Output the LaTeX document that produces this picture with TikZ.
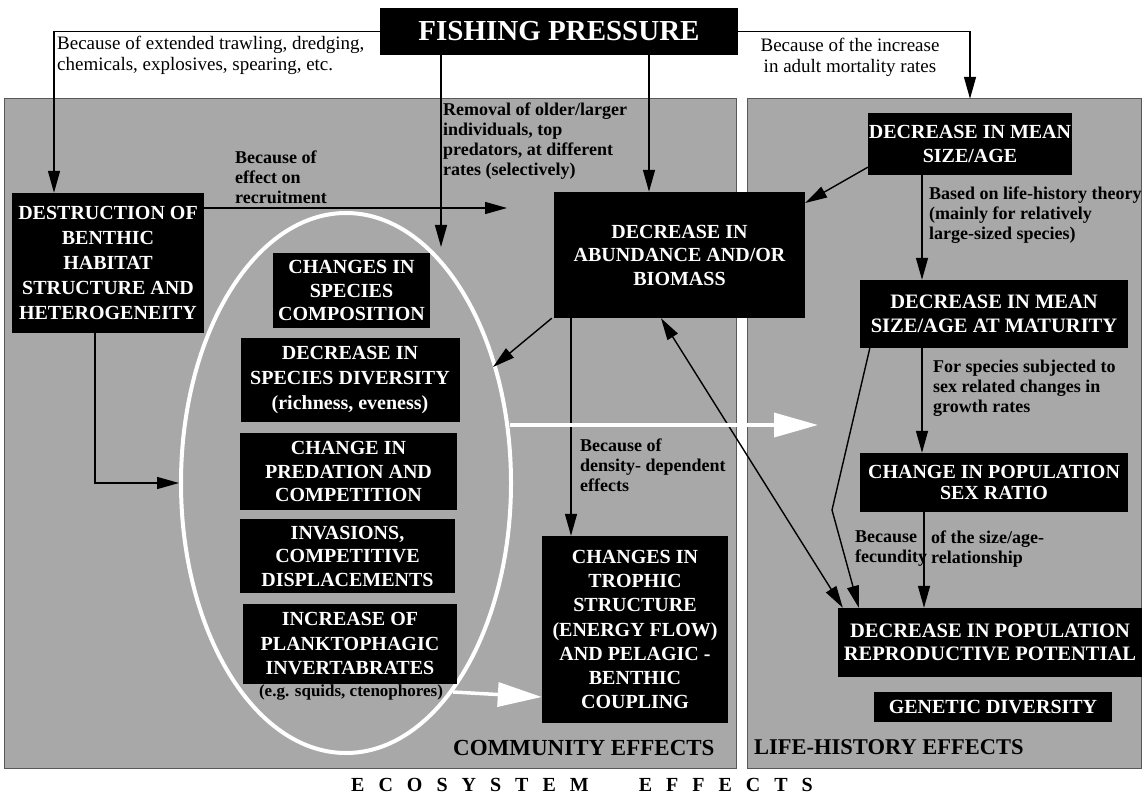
\documentclass[tikz,border=0pt]{standalone}
\usepackage{fontspec}
\setmainfont{Liberation Serif}
\usetikzlibrary{arrows.meta,calc}
\definecolor{panel}{HTML}{A8A8A8}
\newcommand\lsp{\hspace{14pt}}
\begin{document}
\begin{tikzpicture}[x=1pt,y=-1pt,
  box/.style={fill=black,text=white,font=\bfseries\fontsize{20}{23.5}\selectfont,align=center,inner sep=0pt},
  tlbl/.style={font=\fontsize{19}{21}\selectfont,align=left,inner sep=0pt,text=black},
  glbl/.style={font=\bfseries\fontsize{18}{20}\selectfont,align=left,inner sep=0pt,text=black},
  arr/.style={-{Triangle[length=22pt,width=12pt]},line width=1.4pt,black},
  darr/.style={{Triangle[length=22pt,width=12pt]}-{Triangle[length=22pt,width=12pt]},line width=1.4pt,black},
  warr/.style={-{Triangle[length=44pt,width=24pt]},line width=3.5pt,white},
  panelbox/.style={fill=panel,draw=black!65,line width=0.8pt}]
\useasboundingbox[fill=white] (0,0) rectangle (1142,802);

% panels
\path[panelbox] (4,98) rectangle (736,768);
\path[panelbox] (747,98) rectangle (1141,768);

% ellipse
\draw[white,line width=4pt] (346,483) ellipse [x radius=165pt, y radius=270pt];

% boxes
\node[box,minimum width=358pt,minimum height=47pt,font=\bfseries\fontsize{29}{32}\selectfont] (fish) at (559,31.5) {FISHING PRESSURE};
\node[box,minimum width=192pt,minimum height=140pt,font=\bfseries\fontsize{20}{25}\selectfont] (dest) at (108,263) {DESTRUCTION OF\\BENTHIC\\HABITAT\\STRUCTURE AND\\HETEROGENEITY};
\node[box,minimum width=251pt,minimum height=126pt] (abund) at (679.5,255) {DECREASE IN\\ABUNDANCE AND/OR\\BIOMASS};
\node[box,minimum width=157pt,minimum height=75pt] (comp) at (351.5,290.5) {CHANGES IN\\SPECIES\\COMPOSITION};
\node[box,minimum width=219pt,minimum height=84pt,font=\bfseries\fontsize{20}{25}\selectfont] (div) at (350,380) {DECREASE IN\\SPECIES DIVERSITY\\(richness, eveness)};
\node[box,minimum width=217pt,minimum height=77pt] (pred) at (348.5,471.5) {CHANGE IN\\PREDATION AND\\COMPETITION};
\node[box,minimum width=215pt,minimum height=74pt] (inv) at (347.5,556) {INVASIONS,\\COMPETITIVE\\DISPLACEMENTS};
\node[box,minimum width=214pt,minimum height=80pt,font=\bfseries\fontsize{20}{24.5}\selectfont] (inc) at (350,644) {INCREASE OF\\PLANKTOPHAGIC\\INVERTABRATES};
\node[box,minimum width=186pt,minimum height=187pt,font=\bfseries\fontsize{20}{24.3}\selectfont] (troph) at (635,629.5) {CHANGES IN\\TROPHIC\\STRUCTURE\\(ENERGY FLOW)\\AND PELAGIC -\\BENTHIC\\COUPLING};
\node[box,minimum width=204pt,minimum height=62pt] (sizeage) at (970,144) {DECREASE IN MEAN\\SIZE/AGE};
\node[box,minimum width=268pt,minimum height=68pt,font=\bfseries\fontsize{20.5}{23.5}\selectfont] (mat) at (994,314) {DECREASE IN MEAN\\SIZE/AGE AT MATURITY};
\node[box,minimum width=268pt,minimum height=59pt,font=\bfseries\fontsize{20}{21.5}\selectfont] (sex) at (994,482.5) {CHANGE IN POPULATION\\SEX RATIO};
\node[box,minimum width=304pt,minimum height=69pt,font=\bfseries\fontsize{20.5}{23.5}\selectfont] (decpop) at (990,642.5) {DECREASE IN POPULATION\\REPRODUCTIVE POTENTIAL};
\node[box,minimum width=238pt,minimum height=30pt] (gen) at (993,707) {GENETIC DIVERSITY};

% labels
\node[tlbl,anchor=west] (l1) at (57,55) {Because of extended trawling, dredging,\\chemicals, explosives, spearing, etc.};
\node[tlbl,align=center] (l2) at (850,57.5) {Because of the increase\\in adult mortality rates};
\node[glbl,anchor=west] (l3) at (443,141) {Removal of older/larger\\individuals, top\\predators, at different\\rates (selectively)};
\node[glbl,anchor=west] (l4) at (235,177) {Because of\\effect on\\recruitment};
\node[glbl,anchor=west] (l5) at (929,215) {Based on life-history theory\\(mainly for relatively\\large-sized species)};
\node[glbl,anchor=west] (l6) at (933,388) {For species subjected to\\sex related changes in\\growth rates};
\node[glbl,anchor=west] (l7) at (580,465) {Because of\\density- dependent\\effects};
\node[glbl,anchor=west] (l8a) at (855,549) {Because\\fecundity};
\node[glbl,anchor=west] (l8b) at (931,549) {of the size/age-\\relationship};
\node[glbl,font=\bfseries\fontsize{17}{20}\selectfont] (eg) at (351,692) {(e.g. squids, ctenophores)};
\node[font=\bfseries\fontsize{23}{25}\selectfont,anchor=west,inner sep=0pt] (comm) at (453,748) {COMMUNITY EFFECTS};
\node[font=\bfseries\fontsize{22.5}{25}\selectfont,anchor=west,inner sep=0pt] (lh) at (754,747) {LIFE-HISTORY EFFECTS};
\node[font=\bfseries\fontsize{20}{22}\selectfont,inner sep=0pt] (eco) at (582,785) {E\lsp C\lsp O\lsp S\lsp Y\lsp S\lsp T\lsp E\lsp M\hspace{50pt}E\lsp F\lsp F\lsp E\lsp C\lsp T\lsp S};

% coordinates for free ends
\coordinate (compArr) at (441,247);
\coordinate (recruitEnd) at (507,208);
\coordinate (ellL) at (179,483);
\coordinate (ellR) at (493,367);
\coordinate (a1) at ([xshift=-30.5pt]abund.north);
\coordinate (a2) at ([xshift=-108.5pt]abund.south);
\coordinate (s1) at ([xshift=-48pt]sizeage.south);
\coordinate (m1) at ([xshift=-72pt]mat.south);
\coordinate (x1) at ([xshift=-70pt]sex.south);
\coordinate (bend) at (832,510);
\coordinate (wS) at (510,425);
\coordinate (wE) at (818,425);

% black connectors
\draw[arr] (fish.west) -| ([xshift=-54pt]dest.north);
\draw[arr,shorten >=14pt] (fish.east) -| (sizeage.north);
\draw[arr] (fish.south -| compArr) -- (compArr);
\draw[arr] (fish.south -| a1) -- (a1);
\draw[arr] ([yshift=55pt]dest.east) -- (recruitEnd);
\draw[arr] ([xshift=-13pt]dest.south) |- (ellL);
\draw[arr] ([yshift=8pt]sizeage.south west) -- ([yshift=52pt]abund.east);
\draw[arr] ([xshift=-2pt]abund.south west) -- (ellR);
\draw[arr] (a2) -- (a2 |- troph.north);
\draw[arr] (s1) -- (s1 |- mat.north);
\draw[arr] (m1) -- (m1 |- sex.north);
\draw[arr] (x1) -- (x1 |- decpop.north);
\draw[arr] ([xshift=10pt]mat.south west) -- (bend) -- ([xshift=21pt]decpop.north west);
\draw[darr] ([xshift=-18.5pt]abund.south) -- ([xshift=5pt]decpop.north west);

% white arrows
\draw[warr] (wS) -- (wE);
\draw[warr] ([xshift=10pt]eg.east) -- ([yshift=-67.5pt]troph.west);
\end{tikzpicture}
\end{document}
